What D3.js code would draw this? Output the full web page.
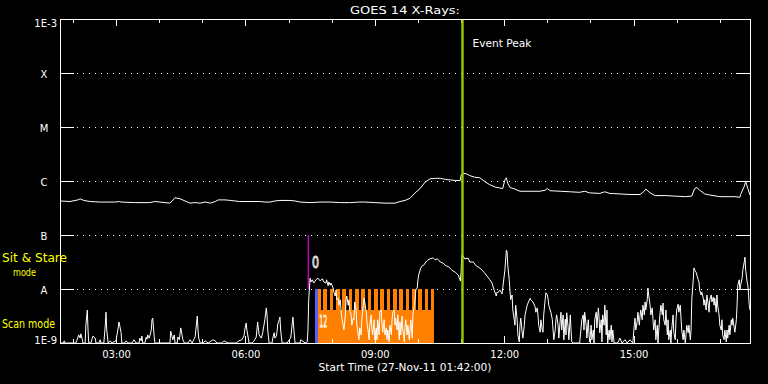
<!DOCTYPE html>
<html><head><meta charset="utf-8">
<script src="https://cdn.jsdelivr.net/npm/d3@7"></script>
<style>html,body{margin:0;padding:0;background:#000;}svg{display:block}</style>
</head><body><svg id="c" width="768" height="384"></svg>
<script>
// ---------- DATA ----------
const title = "GOES 14 X-Rays:";
const startLabel = "Start Time (27-Nov-11 01:42:00)";
const startUTC = Date.UTC(2011, 10, 27, 1, 42, 0);
const spanMinutes = 960;
const classLevels = [1e-8, 1e-7, 1e-6, 1e-5, 1e-4];
const classNames = ["A", "B", "C", "M", "X"];
const edgeLabels = [{v: 1e-3, t: "1E-3"}, {v: 1e-9, t: "1E-9"}];

// long channel: [minutes after start, log10 flux]
const longChannel = [[0,-6.37],[14,-6.38],[25,-6.35],[28,-6.33],[33,-6.36],[42,-6.38],[56,-6.39],[77,-6.39],[83,-6.38],[85,-6.39],[104,-6.40],[125,-6.40],[132,-6.38],[139,-6.39],[153,-6.41],[160,-6.31],[167,-6.33],[174,-6.37],[181,-6.41],[188,-6.40],[195,-6.41],[202,-6.39],[209,-6.41],[216,-6.38],[220,-6.35],[230,-6.35],[237,-6.36],[250,-6.38],[278,-6.38],[285,-6.39],[292,-6.39],[299,-6.37],[306,-6.36],[320,-6.36],[327,-6.37],[334,-6.39],[348,-6.40],[362,-6.39],[376,-6.39],[390,-6.40],[403,-6.40],[417,-6.39],[424,-6.39],[438,-6.40],[452,-6.41],[466,-6.41],[473,-6.38],[480,-6.36],[487,-6.32],[494,-6.22],[501,-6.14],[508,-6.02],[515,-5.96],[522,-5.95],[529,-5.95],[536,-5.97],[543,-5.98],[550,-5.99],[557,-5.99],[558,-5.89],[561,-5.86],[566,-5.87],[570,-5.90],[577,-5.93],[584,-5.94],[591,-6.01],[598,-6.07],[605,-6.11],[612,-6.13],[616,-6.14],[619,-5.98],[621,-5.94],[623,-6.04],[626,-6.12],[633,-6.15],[640,-6.19],[654,-6.19],[668,-6.19],[675,-6.17],[678,-6.14],[682,-6.18],[696,-6.19],[710,-6.20],[723,-6.21],[730,-6.19],[737,-6.22],[751,-6.23],[758,-6.20],[765,-6.23],[779,-6.24],[793,-6.25],[807,-6.25],[812,-6.20],[815,-6.15],[821,-6.22],[828,-6.27],[842,-6.27],[856,-6.28],[870,-6.29],[879,-6.28],[883,-6.14],[886,-6.12],[890,-6.17],[897,-6.24],[904,-6.26],[918,-6.29],[932,-6.29],[939,-6.29],[946,-6.30],[947,-6.25],[952,-6.10],[954,-6.01],[957,-6.14],[960,-6.26]];

// short channel: [minutes after start, log10 flux]
const shortChannel = [[0,-9.00],[4,-9.00],[6,-8.96],[7,-9.00],[22,-9.00],[24,-8.93],[25,-8.89],[26,-8.85],[28,-8.91],[29,-8.83],[31,-8.93],[32,-9.00],[35,-9.00],[36,-8.67],[38,-8.39],[39,-8.76],[40,-9.00],[43,-9.00],[45,-8.91],[46,-8.87],[47,-8.89],[49,-8.91],[50,-9.00],[54,-9.00],[56,-8.94],[57,-9.00],[61,-9.00],[63,-8.67],[64,-8.43],[65,-8.76],[67,-9.00],[70,-8.96],[72,-9.00],[78,-8.96],[79,-8.87],[81,-8.72],[82,-8.61],[83,-8.67],[85,-8.81],[86,-9.00],[90,-9.00],[92,-8.96],[95,-9.00],[100,-9.00],[103,-8.94],[106,-9.00],[110,-9.00],[111,-8.91],[113,-8.96],[114,-8.87],[115,-9.00],[118,-9.00],[120,-8.89],[121,-8.93],[122,-8.85],[124,-8.91],[125,-8.87],[127,-8.76],[128,-8.57],[129,-8.54],[131,-8.87],[132,-9.00],[153,-9.00],[154,-8.78],[156,-8.89],[157,-8.94],[159,-8.85],[160,-9.00],[163,-9.00],[164,-8.89],[166,-8.94],[167,-8.83],[168,-8.72],[170,-8.87],[171,-8.94],[173,-9.00],[178,-9.00],[181,-8.94],[184,-9.00],[186,-8.94],[188,-8.89],[189,-8.76],[191,-8.50],[192,-8.76],[193,-8.91],[195,-9.00],[199,-9.00],[202,-8.96],[206,-9.00],[213,-8.94],[216,-8.96],[218,-9.00],[225,-9.00],[228,-8.96],[234,-9.00],[245,-9.00],[249,-8.96],[253,-8.94],[256,-8.87],[257,-8.76],[259,-8.63],[260,-8.76],[262,-8.91],[263,-9.00],[267,-9.00],[270,-8.96],[273,-8.89],[275,-8.61],[277,-8.85],[280,-8.91],[282,-8.81],[285,-8.57],[287,-8.35],[288,-8.48],[289,-8.76],[291,-9.00],[295,-9.00],[296,-8.91],[298,-8.81],[299,-8.91],[301,-8.87],[302,-8.78],[303,-8.65],[305,-8.57],[306,-8.52],[307,-8.76],[309,-9.00],[316,-9.00],[319,-8.94],[321,-8.91],[324,-8.52],[326,-8.85],[327,-9.00],[334,-9.00],[335,-8.94],[341,-9.00],[344,-8.98],[345,-8.76],[346,-8.20],[348,-7.80],
[349,-7.87],[351,-7.83],[353,-7.89],[356,-7.83],[359,-7.80],[362,-7.85],[365,-7.81],[367,-7.87],[370,-7.89],[371,-7.83],[373,-7.94],[374,-7.87],[376,-7.93],[377,-7.89],[380,-7.98],[381,-8.06],[383,-8.13],[384,-8.02],[385,-8.20],[387,-8.17],[388,-8.30],[390,-8.20],[391,-8.39],[392,-8.54],[394,-8.67],[395,-8.76],[397,-8.48],[398,-8.20],[399,-8.13],[401,-8.30],[402,-8.20],[403,-8.39],[405,-8.48],[406,-8.67],[408,-8.54],[409,-8.57],[410,-8.24],[412,-8.39],[413,-8.67],[415,-8.85],[416,-8.94],[417,-8.72],[419,-8.85],[420,-8.54],[422,-8.30],[423,-8.17],[424,-8.24],[426,-8.43],[427,-8.61],[429,-8.81],[430,-8.94],[431,-8.67],[433,-8.48],[434,-8.76],[435,-8.85],[437,-8.57],[438,-8.94],[440,-8.72],[441,-8.94],[442,-8.57],[444,-8.85],[445,-8.43],[447,-8.39],[448,-8.67],[449,-8.80],[451,-8.57],[452,-8.85],[454,-8.72],[455,-8.94],[456,-8.76],[458,-8.98],[459,-8.67],[461,-8.85],[462,-8.57],[463,-8.43],[465,-8.39],[466,-8.67],[467,-8.54],[469,-8.76],[470,-8.48],[472,-8.94],[473,-8.61],[474,-8.85],[476,-8.50],[477,-8.76],[479,-8.98],[480,-8.72],[481,-8.57],[483,-8.85],[484,-8.67],[486,-8.94],[487,-8.76],[488,-8.57],[490,-8.91],[491,-8.48],[493,-8.30],[494,-8.20],[495,-8.02],[497,-7.98],[498,-7.83],[499,-7.74],[501,-7.65],[502,-7.61],[504,-7.57],[506,-7.56],[509,-7.50],[512,-7.46],[515,-7.44],[518,-7.43],[519,-7.42],[522,-7.46],[525,-7.44],[529,-7.50],[533,-7.52],[537,-7.57],[541,-7.59],[545,-7.65],[550,-7.69],[554,-7.74],[557,-7.85],[558,-7.69],[559,-7.37],[561,-7.39],[563,-7.44],[568,-7.43],[570,-7.50],[575,-7.50],[579,-7.57],[584,-7.61],[590,-7.69],[594,-7.76],[598,-7.83],[601,-7.89],[604,-8.02],[607,-8.13],[608,-8.06],[609,-8.07],[612,-8.02],[615,-8.09],[616,-7.98],[619,-7.65],[621,-7.28],[622,-7.31],[623,-7.56],[625,-7.83],[626,-8.02],[627,-8.20],[629,-8.11],[630,-8.39],[632,-8.57],[633,-8.67],[634,-8.30],[636,-8.57],[637,-8.85],[639,-8.98],[640,-8.67],[641,-8.54],[643,-8.80],[644,-8.91],[646,-8.67],[647,-8.48],[650,-8.30],[653,-8.20],[654,-8.17],[655,-8.20],[658,-8.24],[661,-8.33],[662,-8.43],[664,-8.35],[665,-8.48],[666,-8.67],[668,-8.80],[669,-8.57],[671,-8.76],[672,-8.80],[673,-8.48],[675,-8.20],[676,-8.07],[678,-8.11],[679,-8.17],[680,-8.30],[682,-8.39],[683,-8.43],[685,-8.57],[686,-8.76],[687,-8.94],[689,-8.76],[690,-8.57],[691,-8.48],[693,-8.67],[694,-8.91],[696,-8.57],[697,-8.43],[698,-8.76],[700,-8.48],[701,-8.94],[703,-8.56],[704,-8.85],[705,-8.44],[707,-8.72],[708,-8.94],[710,-8.48],[711,-8.76],[712,-8.98],[714,-9.00],[723,-9.00],[726,-8.57],[728,-8.48],[729,-8.76],[730,-8.43],[732,-8.67],[733,-8.91],[735,-8.57],[736,-8.85],[737,-8.98],[739,-8.67],[740,-8.94],[742,-8.76],[743,-9.00],[744,-8.57],[746,-8.43],[747,-8.72],[749,-8.35],[750,-8.54],[751,-8.81],[753,-8.57],[754,-8.98],[755,-8.48],[757,-8.67],[758,-8.30],[760,-8.85],[761,-8.39],[762,-9.00],[764,-8.76],[765,-8.94],[767,-8.67],[768,-8.98],[769,-8.76],[771,-9.00],[776,-9.00],[779,-8.91],[782,-9.00],[786,-8.94],[789,-9.00],[793,-8.94],[797,-9.00],[799,-8.67],[800,-8.54],[801,-8.76],[803,-8.61],[804,-8.43],[806,-8.67],[807,-8.50],[808,-8.39],[810,-8.57],[811,-8.30],[813,-8.48],[814,-8.24],[815,-8.39],[817,-8.20],[818,-7.98],[819,-8.11],[821,-8.30],[822,-8.48],[824,-8.35],[825,-8.57],[826,-8.76],[828,-8.57],[829,-8.94],[831,-8.67],[832,-9.00],[833,-8.76],[835,-8.43],[836,-8.30],[838,-8.48],[839,-8.26],[840,-8.57],[842,-8.67],[843,-8.39],[845,-8.85],[846,-8.57],[847,-8.94],[849,-8.76],[850,-9.00],[851,-8.76],[853,-8.48],[854,-8.81],[856,-8.94],[857,-8.57],[858,-8.39],[860,-8.28],[861,-8.43],[863,-8.30],[864,-8.54],[865,-8.76],[867,-8.94],[868,-8.76],[870,-9.00],[871,-8.85],[872,-8.67],[874,-8.81],[875,-8.67],[877,-8.94],[878,-8.76],[879,-8.20],[881,-7.83],[882,-7.61],[883,-7.65],[885,-7.69],[886,-7.74],[888,-7.83],[889,-7.87],[890,-8.02],[892,-8.11],[893,-8.06],[895,-8.17],[896,-8.30],[897,-8.20],[899,-8.39],[900,-8.11],[902,-8.30],[903,-8.43],[904,-8.20],[906,-8.11],[907,-8.24],[909,-8.15],[910,-8.30],[911,-8.17],[913,-8.43],[914,-8.11],[915,-8.30],[917,-8.48],[918,-8.67],[920,-8.76],[921,-8.57],[922,-8.85],[924,-8.94],[925,-8.76],[927,-8.98],[928,-8.76],[929,-8.91],[931,-8.67],[932,-8.85],[934,-8.57],[935,-8.67],[936,-8.54],[938,-8.72],[939,-8.80],[941,-8.57],[942,-8.30],[943,-7.93],[945,-7.83],[946,-8.02],[947,-7.93],[949,-7.80],[950,-7.65],[952,-7.50],[953,-7.41],[954,-7.65],[956,-7.87],[957,-7.93],[959,-8.30],[960,-8.39]];

// instrument-mode annotations (minutes after start)
const eventPeak = 560;
const pointingChange = 345.5;
const sitStare = [354.5, 359];
const scanRun = [359, 520.3];
const scanGaps = [362.7, 371.5, 380.3, 389.1, 397.9, 406.8, 415.6, 424.4, 433.2, 442.0, 450.8, 459.6, 468.4, 477.3, 486.1, 494.9, 503.7, 512.5];
const gapMinutes = 3.7;
const annotations = [{m: 350.5, t: "0", v: -7.62, w: 7}, {m: 360.6, t: "12", v: -8.71, w: 8}];

// ---------- CHART ----------
const L = 60, R = 750, T0 = 19, B = 343;
const svg = d3.select("#c");
svg.append("rect").attr("width", 768).attr("height", 384).attr("fill", "#000");
const T = m => new Date(startUTC + m * 60000);
const x = d3.scaleUtc().domain([T(0), T(spanMinutes)]).range([L, R]);
const y = d3.scaleLog().domain([1e-9, 1e-3]).range([B, T0]).clamp(true);
const font = "'DejaVu Sans', sans-serif";
const WHITE = "#ffffff", YEL = "#ffff00";

// dotted grid
svg.append("g").selectAll("line").data(classLevels).join("line")
  .attr("x1", L + 17).attr("x2", R - 14).attr("y1", d => y(d) + 0.5).attr("y2", d => y(d) + 0.5)
  .attr("stroke", WHITE).attr("stroke-width", 1).attr("stroke-dasharray", "1 5")
  .attr("shape-rendering", "crispEdges");

// scan mode blocks
const mode = svg.append("g").attr("shape-rendering", "crispEdges");
mode.append("rect").attr("x", x(T(scanRun[0]))).attr("width", x(T(scanRun[1])) - x(T(scanRun[0])))
  .attr("y", y(1e-8)).attr("height", B - y(1e-8)).attr("fill", "#ff8000");
mode.selectAll("rect.gap").data(scanGaps).join("rect").attr("class", "gap")
  .attr("x", d => x(T(d))).attr("width", d => x(T(d + gapMinutes)) - x(T(d)))
  .attr("y", y(1e-8)).attr("height", y(Math.pow(10, -8.39)) - y(1e-8)).attr("fill", "#000");
mode.append("rect").attr("x", x(T(sitStare[0]))).attr("width", x(T(sitStare[1])) - x(T(sitStare[0])))
  .attr("y", y(1e-8)).attr("height", B - y(1e-8)).attr("fill", "#5c5cf6");

// curves
const line = d3.line().x(d => x(T(d[0]))).y(d => y(Math.pow(10, d[1])));
[longChannel, shortChannel].forEach(s => {
  svg.append("path").datum(s).attr("d", line).attr("fill", "none")
    .attr("stroke", WHITE).attr("stroke-width", 1).attr("stroke-linejoin", "miter");
});

// annotations "0" and "12"
svg.append("g").selectAll("text").data(annotations).join("text")
  .attr("x", d => x(T(d.m))).attr("y", d => y(Math.pow(10, d.v)))
  .attr("fill", "none").attr("stroke", WHITE).attr("stroke-width", 1)
  .attr("font-family", font).attr("font-size", 15)
  .attr("textLength", d => d.w).attr("lengthAdjust", "spacingAndGlyphs")
  .text(d => d.t);

// frame
svg.append("rect").attr("x", L + 0.5).attr("y", T0 + 0.5).attr("width", R - L).attr("height", B - T0)
  .attr("fill", "none").attr("stroke", WHITE).attr("stroke-width", 1).attr("shape-rendering", "crispEdges");

function styleAxis(g) {
  g.select(".domain").remove();
  g.selectAll("line").attr("stroke", WHITE).attr("shape-rendering", "crispEdges");
  g.selectAll("text").attr("fill", WHITE).attr("font-family", font).attr("font-size", 10);
}
// top ticks
svg.append("g").attr("transform", `translate(0,${T0})`)
  .call(d3.axisBottom(x).ticks(d3.utcHour.every(1)).tickSize(4).tickFormat("")).call(styleAxis);
svg.append("g").attr("transform", `translate(0,${T0})`)
  .call(d3.axisBottom(x).ticks(d3.utcHour.every(3)).tickSize(7).tickFormat("")).call(styleAxis);
// bottom ticks
svg.append("g").attr("transform", `translate(0,${B})`)
  .call(d3.axisTop(x).ticks(d3.utcHour.every(1)).tickSize(4).tickFormat("")).call(styleAxis);
svg.append("g").attr("transform", `translate(0,${B})`)
  .call(d3.axisTop(x).ticks(d3.utcHour.every(3)).tickSize(7).tickFormat("")).call(styleAxis);
svg.append("g").attr("transform", `translate(0,${B})`)
  .call(d3.axisBottom(x).ticks(d3.utcHour.every(3)).tickSize(0).tickPadding(8).tickFormat(d3.utcFormat("%H:%M")))
  .call(styleAxis);
// side ticks
svg.append("g").attr("transform", `translate(${L},0)`)
  .call(d3.axisRight(y).tickValues(classLevels).tickSize(14).tickFormat("")).call(styleAxis);
svg.append("g").attr("transform", `translate(${R},0)`)
  .call(d3.axisLeft(y).tickValues(classLevels).tickSize(14).tickFormat("")).call(styleAxis);

// y labels
svg.append("g").selectAll("text").data(classLevels).join("text")
  .attr("x", 44).attr("y", d => y(d) + 4.5).attr("text-anchor", "middle")
  .attr("fill", WHITE).attr("font-family", font).attr("font-size", 10)
  .text((d, i) => classNames[i]);
svg.append("g").selectAll("text").data(edgeLabels).join("text")
  .attr("x", 57).attr("y", d => d.v === 1e-3 ? y(d.v) + 8 : y(d.v) + 1)
  .attr("text-anchor", "end").attr("fill", WHITE).attr("font-family", font).attr("font-size", 10)
  .text(d => d.t);

// event peak + pointing change
svg.append("line").attr("x1", x(T(eventPeak))).attr("x2", x(T(eventPeak)))
  .attr("y1", T0 + 1).attr("y2", B).attr("stroke", "#99cc00").attr("stroke-width", 2.4);
svg.append("text").attr("x", x(T(eventPeak)) + 10).attr("y", 47)
  .attr("fill", WHITE).attr("font-family", font).attr("font-size", 10.5)
  .attr("textLength", 59).attr("lengthAdjust", "spacingAndGlyphs").text("Event Peak");
svg.append("line").attr("x1", x(T(pointingChange))).attr("x2", x(T(pointingChange)))
  .attr("y1", y(1e-7)).attr("y2", y(1e-8)).attr("stroke", "#cc00cc").attr("stroke-width", 1.4);

// titles
svg.append("text").attr("x", (L + R) / 2).attr("y", 14).attr("text-anchor", "middle")
  .attr("fill", WHITE).attr("font-family", font).attr("font-size", 11)
  .attr("textLength", 110).attr("lengthAdjust", "spacingAndGlyphs").text(title);
svg.append("text").attr("x", (L + R) / 2).attr("y", 371).attr("text-anchor", "middle")
  .attr("fill", WHITE).attr("font-family", font).attr("font-size", 11)
  .attr("textLength", 173).attr("lengthAdjust", "spacingAndGlyphs").text(startLabel);

// mode labels
const modeLabels = [{t: "Sit & Stare", x: 2, y: 262, w: 65, s: 12}, {t: "mode", x: 13, y: 276, w: 23, s: 11}, {t: "Scan mode", x: 2, y: 328, w: 53, s: 12}];
svg.append("g").selectAll("text").data(modeLabels).join("text")
  .attr("x", d => d.x).attr("y", d => d.y).attr("fill", YEL)
  .attr("font-family", font).attr("font-size", d => d.s)
  .attr("textLength", d => d.w).attr("lengthAdjust", "spacingAndGlyphs").text(d => d.t);
</script></body></html>
